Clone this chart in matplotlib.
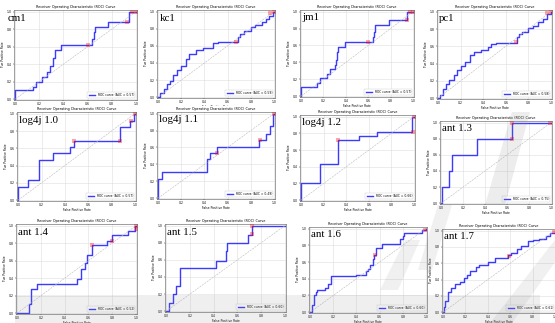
"""Grid of ROC curves for the defect-prediction projects (collage style)."""

import matplotlib
matplotlib.use("Agg")
import matplotlib.pyplot as plt
from matplotlib.patches import Polygon, Rectangle

W, H = 555, 323

# ---- data: (fpr, tpr) points, the curve jumps to tpr at fpr ----
projects = ["cm1", "kc1", "jm1", "pc1",
            "log4j 1.0", "log4j 1.1", "log4j 1.2", "ant 1.3",
            "ant 1.4", "ant 1.5", "ant 1.6", "ant 1.7"]

auc = [0.57, 0.59, 0.57, 0.58, 0.57, 0.49, 0.66, 0.75, 0.52, 0.60, 0.60, 0.61]

fpr_cm1 = [0, 0, 0.15, 0.17, 0.22, 0.26, 0.29, 0.31, 0.33, 0.38, 0.64, 0.65, 0.66, 0.77, 0.94, 1.0]
tpr_cm1 = [0, 0.1, 0.14, 0.2, 0.25, 0.31, 0.38, 0.47, 0.56, 0.62, 0.69, 0.77, 0.83, 0.88, 1.0, 1.0]

fpr_kc1 = [0, 0.02, 0.05, 0.08, 0.1, 0.13, 0.16, 0.2, 0.24, 0.27, 0.33, 0.39, 0.45, 0.47, 0.52,
           0.69, 0.71, 0.74, 0.8, 0.84, 0.9, 0.93, 0.96, 0.99, 1.0]
tpr_kc1 = [0, 0.05, 0.1, 0.15, 0.19, 0.26, 0.32, 0.37, 0.45, 0.51, 0.55, 0.57, 0.58, 0.63, 0.65,
           0.7, 0.74, 0.78, 0.82, 0.85, 0.88, 0.91, 0.95, 1.0, 1.0]

fpr_jm1 = [0, 0, 0.14, 0.17, 0.23, 0.26, 0.3, 0.31, 0.32, 0.33, 0.39, 0.64, 0.65, 0.66, 0.79, 0.95, 1.0]
tpr_jm1 = [0, 0.11, 0.16, 0.21, 0.26, 0.32, 0.37, 0.43, 0.52, 0.58, 0.64, 0.7, 0.76, 0.84, 0.9, 1.0, 1.0]

fpr_pc1 = [0, 0.015, 0.04, 0.07, 0.1, 0.14, 0.17, 0.2, 0.24, 0.28, 0.32, 0.38, 0.44, 0.47, 0.51,
           0.7, 0.72, 0.74, 0.8, 0.84, 0.89, 0.93, 0.97, 1.0]
tpr_pc1 = [0, 0.04, 0.11, 0.16, 0.21, 0.27, 0.33, 0.37, 0.42, 0.5, 0.53, 0.56, 0.59, 0.63, 0.64,
           0.71, 0.74, 0.77, 0.81, 0.84, 0.88, 0.92, 0.97, 1.0]

fpr_log10 = [0, 0, 0.08, 0.175, 0.3, 0.44, 0.48, 0.87, 0.96, 0.99, 1.0]
tpr_log10 = [0, 0.15, 0.23, 0.46, 0.54, 0.61, 0.69, 0.85, 0.92, 1.0, 1.0]

fpr_log11 = [0, 0, 0.03, 0.42, 0.45, 0.51, 0.87, 0.93, 0.97, 0.99, 1.0]
tpr_log11 = [0, 0.23, 0.31, 0.46, 0.54, 0.61, 0.69, 0.76, 0.86, 1.0, 1.0]

fpr_log12 = [0, 0, 0.165, 0.33, 0.51, 0.675, 0.985, 1.0]
tpr_log12 = [0, 0.21, 0.43, 0.72, 0.77, 0.82, 1.0, 1.0]

fpr_ant13 = [0, 0.01, 0.07, 0.1, 0.33, 0.65, 1.0]
tpr_ant13 = [0, 0.2, 0.4, 0.6, 0.8, 1.0, 1.0]

fpr_ant14 = [0, 0.1, 0.115, 0.165, 0.5, 0.54, 0.57, 0.59, 0.63, 0.76, 0.8, 0.93, 0.99, 1.0]
tpr_ant14 = [0, 0.11, 0.28, 0.33, 0.39, 0.5, 0.57, 0.67, 0.78, 0.83, 0.89, 0.94, 1.0, 1.0]

fpr_ant15 = [0, 0.02, 0.06, 0.086, 0.114, 0.42, 0.5, 0.515, 0.69, 0.72, 1.0]
tpr_ant15 = [0, 0.095, 0.2, 0.3, 0.5, 0.59, 0.7, 0.8, 0.89, 1.0, 1.0]

fpr_ant16 = [0, 0.015, 0.03, 0.05, 0.06, 0.13, 0.15, 0.18, 0.4, 0.48, 0.5, 0.52, 0.54, 0.55,
             0.565, 0.62, 0.78, 0.8, 0.81, 0.97, 1.0]
tpr_ant16 = [0, 0.08, 0.21, 0.245, 0.265, 0.29, 0.34, 0.43, 0.45, 0.49, 0.52, 0.56, 0.64, 0.69,
             0.77, 0.82, 0.88, 0.91, 0.95, 0.98, 1.0]

fpr_ant17 = [0, 0.005, 0.02, 0.04, 0.07, 0.11, 0.15, 0.185, 0.21, 0.24, 0.29, 0.32, 0.38, 0.4,
             0.46, 0.53, 0.58, 0.61, 0.66, 0.7, 0.76, 0.8, 0.86, 0.92, 0.96, 1.0]
tpr_ant17 = [0, 0.06, 0.14, 0.25, 0.3, 0.34, 0.37, 0.415, 0.455, 0.51, 0.55, 0.58, 0.58, 0.62,
             0.66, 0.67, 0.7, 0.73, 0.77, 0.81, 0.87, 0.89, 0.9, 0.93, 0.97, 1.0]

fprs = [fpr_cm1, fpr_kc1, fpr_jm1, fpr_pc1, fpr_log10, fpr_log11, fpr_log12, fpr_ant13,
        fpr_ant14, fpr_ant15, fpr_ant16, fpr_ant17]
tprs = [tpr_cm1, tpr_kc1, tpr_jm1, tpr_pc1, tpr_log10, tpr_log11, tpr_log12, tpr_ant13,
        tpr_ant14, tpr_ant15, tpr_ant16, tpr_ant17]

# red threshold marks
mark_x = [[0.6, 0.93, 0.97, 1.0], [0.67, 0.97, 1.0], [0.6, 0.95, 0.97, 1.0], [0.69, 0.97, 1.0],
          [0.48, 0.87, 0.97, 1.0], [0.51, 0.88, 1.0], [0.33, 0.99, 1.0], [0.65, 0.65, 0.99],
          [0.63, 0.8, 1.0, 1.0], [0.72, 0.72], [0.56, 0.99], [0.59, 0.99]]
mark_y = [[0.62, 0.88, 1.0, 1.0], [0.65, 0.99, 1.0], [0.64, 0.9, 1.0, 1.0], [0.65, 0.99, 1.0],
          [0.69, 0.69, 0.92, 1.0], [0.54, 0.69, 1.0], [0.72, 0.82, 1.0], [1.0, 0.8, 1.0],
          [0.78, 0.83, 0.96, 1.0], [0.9, 1.0], [0.69, 0.99], [0.69, 0.98]]

# axes boxes in pixels: left, top, right, bottom
boxes = [(14, 10, 137, 100), (157, 10, 275, 98), (300, 10, 414, 97), (437, 10, 552, 99),
         (17, 112, 136, 201), (157, 112, 275, 199), (300, 115, 415, 201), (440, 121, 552, 204),
         (16, 224, 137, 314), (165, 224, 286, 312), (309, 227, 427, 313), (442, 229, 556, 313)]

# white screenshot backgrounds that hide parts of the panel above (pixels)
covers = {4: (0, 105.5, 139, 210), 5: (140, 105.5, 279, 210)}

fig = plt.figure(figsize=(W / 100, H / 100), dpi=100)
fig.patch.set_facecolor("white")

small = 2.2
ticks = [0.0, 0.2, 0.4, 0.6, 0.8, 1.0]

for i, name in enumerate(projects):
    z = 2 + i
    if i in covers:
        cl, ct, cr, cb = covers[i]
        fig.patches.append(Rectangle((cl / W, 1 - cb / H), (cr - cl) / W, (cb - ct) / H,
                                     transform=fig.transFigure, facecolor="white",
                                     edgecolor="none", zorder=z - 0.5))
    l, t, r, b = boxes[i]
    ax = fig.add_axes([l / W, 1 - b / H, (r - l) / W, (b - t) / H])
    ax.set_zorder(z)
    ax.plot(fprs[i], tprs[i], drawstyle="steps-post", color="#3b3bff", lw=1.0,
            label=f"ROC curve (AUC = {auc[i]:.2f})")
    ax.plot([0, 1], [0, 1], color="#bbbbbb", lw=0.4, ls="--")
    ax.plot(mark_x[i], mark_y[i], "s", color="red", alpha=0.35, ms=2.2, mew=0)
    ax.set_xlim(-0.01, 1.01)
    ax.set_ylim(-0.01, 1.02)
    ax.set_xticks(ticks)
    ax.set_yticks(ticks)
    ax.tick_params(labelsize=small, length=1, width=0.3, pad=0.6)
    ax.grid(True, color="#dddddd", lw=0.4)
    ax.set_title("Receiver Operating Characteristic (ROC) Curve", fontsize=small + 0.2, pad=1.2)
    ax.set_xlabel("False Positive Rate", fontsize=small, labelpad=0.8)
    ax.set_ylabel("True Positive Rate", fontsize=small, labelpad=1.0)
    for s in ax.spines.values():
        s.set_linewidth(0.4)
        s.set_color("#555555")
    leg = ax.legend(loc="lower right", fontsize=small, handlelength=2.2, borderpad=0.4,
                    framealpha=1, fancybox=False)
    leg.get_frame().set_linewidth(0.3)
    lx = -0.05 if name == "cm1" else 0.02
    ax.text(lx, 0.96, name, transform=ax.transAxes, ha="left", va="top",
            fontsize=7.8, family="Liberation Serif", zorder=5, clip_on=False)

# light watermark shapes on top of the collage
def px_poly(pts, alpha):
    fig.patches.append(Polygon([(x / W, 1 - y / H) for x, y in pts], closed=True,
                               transform=fig.transFigure, facecolor="#888888",
                               edgecolor="none", alpha=alpha, zorder=50))

px_poly([(15, 295), (540, 295), (540, 323), (15, 323)], 0.13)
px_poly([(485, 205), (505, 205), (530, 112), (512, 112)], 0.15)
px_poly([(380, 290), (398, 290), (420, 240), (405, 240)], 0.12)
px_poly([(418, 270), (432, 270), (452, 205), (438, 205)], 0.12)
px_poly([(490, 323), (512, 323), (555, 262), (555, 240)], 0.12)

fig.savefig("out.png", dpi=100)
